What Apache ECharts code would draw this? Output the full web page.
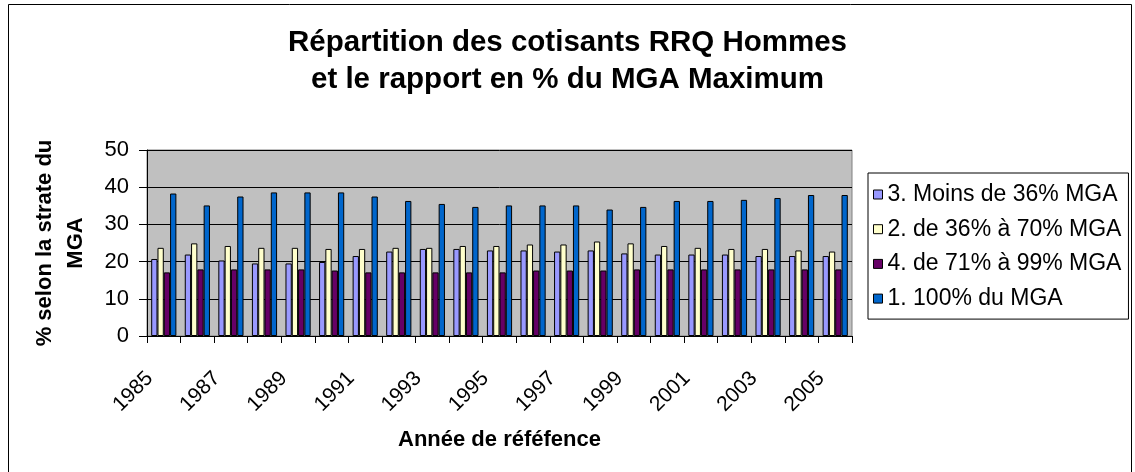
<!DOCTYPE html>
<html>
<head>
<meta charset="utf-8">
<script src="https://cdn.jsdelivr.net/npm/echarts@6/dist/echarts.min.js"></script>
<style>
html,body{margin:0;padding:0;background:#fff;}
#chart{width:1135px;height:472px;}
</style>
</head>
<body>
<div id="chart"></div>
<script>
const years = ['1985','1986','1987','1988','1989','1990','1991','1992','1993','1994','1995','1996','1997','1998','1999','2000','2001','2002','2003','2004','2005'];
const moins36 = [20.7,21.9,20.3,19.5,19.5,19.9,21.5,22.7,23.4,23.4,23.0,23.0,22.7,23.0,22.2,21.9,21.9,21.9,21.5,21.5,21.5];
const de36a70 = [23.7,24.9,24.2,23.7,23.7,23.4,23.4,23.7,23.7,24.2,24.2,24.6,24.6,25.4,24.9,24.2,23.7,23.4,23.4,23.0,22.7];
const de71a99 = [17.1,17.9,17.9,17.9,17.9,17.6,17.1,17.1,17.1,17.1,17.1,17.6,17.6,17.6,17.9,17.9,17.9,17.9,17.9,17.9,17.9];
const mga100 = [38.3,35.1,37.5,38.6,38.6,38.6,37.5,36.3,35.5,34.7,35.1,35.1,35.1,34.0,34.7,36.3,36.3,36.6,37.1,37.9,37.9];
const seriesNames = ['3. Moins de 36% MGA','2. de 36% à 70% MGA','4. de 71% à 99% MGA','1. 100% du MGA'];
const yTicks = [0,10,20,30,40,50];
const titleLines = ['Répartition des cotisants RRQ Hommes','et le rapport en % du MGA Maximum'];

const FONT = '"Liberation Sans", Arial, sans-serif';
const colors = ['#9999FF','#FFFFCC','#660066','#0066CC'];
const dataSets = [moins36, de36a70, de71a99, mga100];

const chart = echarts.init(document.getElementById('chart'), null, {renderer:'canvas'});
chart.setOption({
  animation:false,
  backgroundColor:'#fff',
  textStyle:{fontFamily:FONT},
  legend:{
    orient:'vertical', left:868, top:173,
    padding:[10,7,9,5],
    itemGap:11.7, itemWidth:9, itemHeight:9,
    borderColor:'#000', borderWidth:1,
    icon:'rect',
    itemStyle:{borderColor:'#000',borderWidth:1},
    textStyle:{fontFamily:FONT,fontSize:23,color:'#000'},
    data:seriesNames
  },
  grid:{
    left:147, right:283, top:150, bottom:136,
    show:true, backgroundColor:'#C0C0C0', borderColor:'#808080', borderWidth:1,
    containLabel:false
  },
  xAxis:{
    type:'category', data:years,
    name:'Année de réféfence', nameLocation:'middle', nameGap:93,
    nameTextStyle:{fontFamily:FONT,fontSize:22,fontWeight:'bold',color:'#000'},
    axisLine:{show:true,lineStyle:{color:'#000',width:1}},
    axisTick:{show:true,interval:0,length:7,lineStyle:{color:'#000'}},
    axisLabel:{interval:1,rotate:45,margin:25,padding:[0,20,0,0],fontFamily:FONT,fontSize:21,color:'#000'},
    splitLine:{show:false}
  },
  yAxis:{
    type:'value', min:0, max:50, interval:10,
    name:'% selon la strate du\nMGA', nameLocation:'middle', nameGap:56, nameRotate:90,
    nameTextStyle:{fontFamily:FONT,fontSize:22,fontWeight:'bold',color:'#000',lineHeight:31},
    axisLine:{show:true,lineStyle:{color:'#000',width:1}},
    axisTick:{show:true,length:8,lineStyle:{color:'#000'}},
    axisLabel:{margin:18,fontFamily:FONT,fontSize:22,color:'#000',
      formatter:function(v){return yTicks.indexOf(v)>=0?String(v):'';}},
    splitLine:{show:true,lineStyle:{color:'#000',width:1}}
  },
  graphic:[{
    type:'rect', shape:{x:8.5,y:4.5,width:1123,height:480},
    style:{fill:'none',stroke:'#000',lineWidth:1}, silent:true, z:100
  },{
    type:'text', x:567.5, y:24, silent:true,
    style:{text:titleLines.join('\n'), textAlign:'center', textVerticalAlign:'top',
      fontFamily:FONT, fontSize:29.5, fontWeight:'bold', fill:'#000', lineHeight:37}
  }],
  series: seriesNames.map(function(n,i){
    return {
      name:n, type:'bar', data:dataSets[i],
      barGap:'0%', barCategoryGap:'25%',
      itemStyle:{color:colors[i],borderColor:'#000',borderWidth:1}
    };
  })
});
</script>
</body>
</html>
